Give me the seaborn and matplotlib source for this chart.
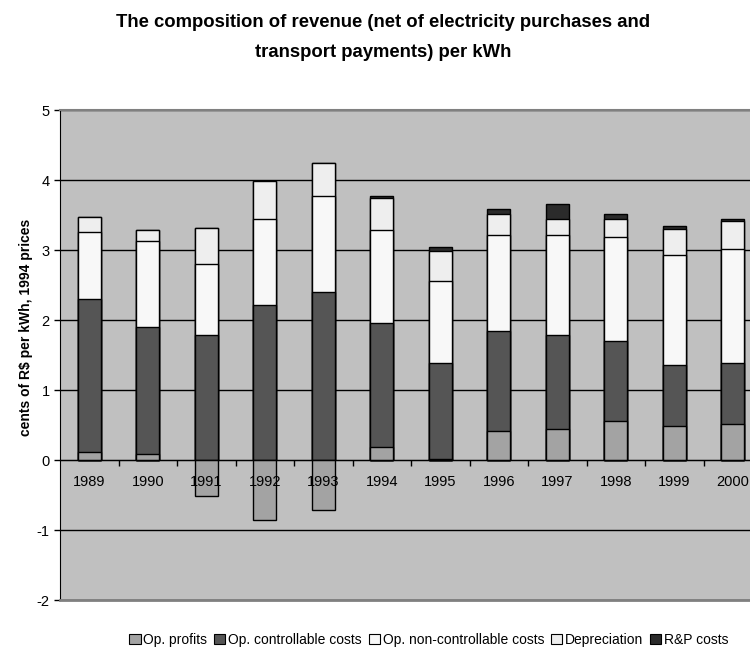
import numpy as np
import pandas as pd
import seaborn as sns
import matplotlib
matplotlib.use("Agg")
import matplotlib.pyplot as plt
from matplotlib.patches import Patch

years = ["1989", "1990", "1991", "1992", "1993", "1994",
         "1995", "1996", "1997", "1998", "1999", "2000"]
op_profits = [0.12, 0.09, -0.52, -0.86, -0.71, 0.19, 0.01, 0.41, 0.44, 0.56, 0.49, 0.52]
op_controllable = [2.18, 1.81, 1.79, 2.22, 2.40, 1.77, 1.37, 1.44, 1.34, 1.14, 0.87, 0.86]
op_noncontrollable = [0.96, 1.23, 1.01, 1.23, 1.37, 1.33, 1.18, 1.36, 1.43, 1.48, 1.57, 1.64]
depreciation = [0.21, 0.16, 0.52, 0.53, 0.47, 0.46, 0.43, 0.30, 0.24, 0.27, 0.37, 0.39]
rp_costs = [0.00, 0.00, 0.00, 0.00, 0.00, 0.02, 0.06, 0.08, 0.21, 0.06, 0.04, 0.03]

labels = ["Op. profits", "Op. controllable costs", "Op. non-controllable costs",
          "Depreciation", "R&P costs"]
colors = ["#a3a3a3", "#555555", "#f8f8f8", "#eeeeee", "#2b2b2b"]

plt.rcParams['font.family'] = ['Liberation Sans', 'DejaVu Sans']
plt.rcParams['axes.unicode_minus'] = False

# positive stack starts on top of profits when profits are positive
base = np.clip(np.array(op_profits), 0, None)
df = pd.DataFrame({"year": years})
df["ctrl"] = base + np.array(op_controllable)
df["nc"] = df["ctrl"] + np.array(op_noncontrollable)
df["dep"] = df["nc"] + np.array(depreciation)
df["rp"] = df["dep"] + np.array(rp_costs)
df["prof"] = op_profits

fig = plt.figure(figsize=(7.5, 6.51), dpi=100)
ax = fig.add_axes([0.08, 0.0783, 0.936, 0.7527])
ax.set_facecolor("#c0c0c0")

# draw from top of stack downward so lower layers cover upper ones
for col, c in [("rp", colors[4]), ("dep", colors[3]), ("nc", colors[2]),
               ("ctrl", colors[1]), ("prof", colors[0])]:
    sns.barplot(data=df, x="year", y=col, color=c, width=0.4, saturation=1,
                edgecolor="black", linewidth=1, ax=ax)

ax.set_ylim(-2, 5)
ax.set_xlim(-0.5, 11.5)
ax.set_yticks(range(-2, 6))
ax.yaxis.grid(True, color="black", linewidth=1)
ax.set_axisbelow(True)
ax.xaxis.set_zorder(3)  # year labels sit on top of the bars

ax.spines["bottom"].set_position(("data", 0))
ax.spines["bottom"].set_color("black")
ax.spines["bottom"].set_zorder(3)
ax.spines["right"].set_visible(False)
ax.spines["top"].set_color("#808080")
ax.spines["top"].set_linewidth(1.5)
ax.spines["left"].set_color("black")
ax.axhline(-2, color="#808080", linewidth=2, clip_on=False, zorder=5)

ax.set_xticks(np.arange(0.5, 11, 1), minor=True)
ax.tick_params(axis="x", which="major", length=0, pad=11, labelsize=10.5)
ax.tick_params(axis="x", which="minor", length=4, width=1, direction="out")
ax.tick_params(axis="y", length=4, width=1, labelsize=10.5)

ax.set_xlabel("")
ax.set_ylabel(r"cents of R\$ per kWh, 1994 prices", fontsize=10, fontweight="bold")
ax.yaxis.set_label_coords(-0.039, 0.557)

fig.text(0.511, 0.965, "The composition of revenue (net of electricity purchases and",
         ha="center", va="center", fontsize=13.3, fontweight="bold")
fig.text(0.511, 0.920, "transport payments) per kWh",
         ha="center", va="center", fontsize=13.3, fontweight="bold")

handles = [Patch(facecolor=c, edgecolor="black", linewidth=0.8, label=l)
           for c, l in zip(colors, labels)]
fig.legend(handles=handles, loc="center", bbox_to_anchor=(0.572, 0.017), ncol=5,
           frameon=False, fontsize=10, handlelength=0.8, handleheight=0.8,
           handletextpad=0.2, columnspacing=0.5)

fig.savefig("out.png", dpi=100)
